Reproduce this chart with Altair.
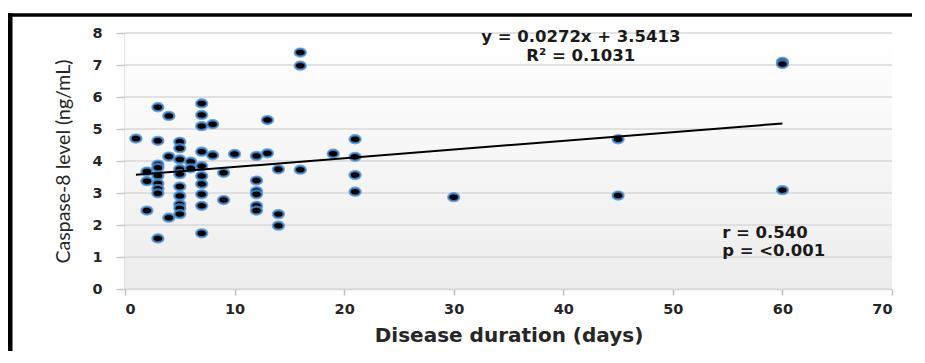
import altair as alt
import pandas as pd

# ---- data ----
days = [1,
        2, 2, 2,
        3, 3, 3, 3, 3, 3, 3, 3, 3,
        4, 4, 4,
        5, 5, 5, 5, 5, 5, 5, 5, 5, 5,
        6, 6,
        7, 7, 7, 7, 7, 7, 7, 7, 7, 7,
        8, 8,
        9, 9,
        10,
        12, 12, 12, 12, 12, 12,
        13, 13,
        14, 14, 14,
        16, 16, 16,
        19,
        21, 21, 21, 21,
        30,
        45, 45,
        60, 60, 60]
caspase8 = [4.70,
            3.67, 3.37, 2.45,
            5.68, 4.63, 3.89, 3.79, 3.54, 3.30, 3.13, 2.99, 1.58,
            5.41, 4.14, 2.23,
            4.60, 4.40, 4.05, 3.75, 3.59, 3.20, 2.91, 2.65, 2.52, 2.34,
            3.98, 3.77,
            5.80, 5.44, 5.09, 4.29, 3.84, 3.53, 3.28, 2.96, 2.60, 1.74,
            5.15, 4.18,
            3.63, 2.78,
            4.22,
            4.16, 3.39, 3.06, 2.96, 2.60, 2.45,
            5.28, 4.24,
            3.74, 2.34, 1.98,
            7.39, 6.98, 3.73,
            4.23,
            4.68, 4.13, 3.56, 3.04,
            2.87,
            4.68, 2.92,
            7.10, 7.03, 3.09]

slope = 0.0272
intercept = 3.5413
trend_x = [1, 60]

y_ticks = [0, 1, 2, 3, 4, 5, 6, 7, 8]
x_ticks = [0, 10, 20, 30, 40, 50, 60, 70]

annot_text = ["y = 0.0272x + 3.5413", "R\u00b2 = 0.1031"]
annot_x = [41.6, 41.6]
annot_y = [7.87, 7.28]

stat_text = ["r = 0.540", "p = <0.001"]
stat_x = [54.5, 54.5]
stat_y = [1.75, 1.19]

W, H = 767, 256
FONT = "DejaVu Sans"

pts = pd.DataFrame({"d": days, "c": caspase8})
trend = pd.DataFrame({"d": trend_x, "c": [slope * v + intercept for v in trend_x]})
grid = pd.DataFrame({"v": y_ticks})
annot = pd.DataFrame({"t": annot_text, "d": annot_x, "c": annot_y})
stats = pd.DataFrame({"t": stat_text, "d": stat_x, "c": stat_y})

xs = alt.Scale(domain=[0, 70], nice=False)
ys = alt.Scale(domain=[0, 8], nice=False)

x_axis = alt.Axis(values=x_ticks, title="Disease duration  (days)", grid=False,
                  domainColor="#d0d0d0", domainWidth=1.5,
                  tickColor="#bfbfbf", tickSize=6, tickWidth=1.5,
                  labelFont=FONT, labelFontWeight="bold", labelFontSize=14.5,
                  labelColor="#262626", labelPadding=7,
                  titleFont=FONT, titleFontWeight="bold", titleFontSize=20,
                  titleColor="#262626", titlePadding=10)
y_axis = alt.Axis(values=y_ticks, title="Caspase-8 level (ng/mL)", grid=False,
                  domainColor="#c8c8c8", domainWidth=2,
                  tickColor="#c8c8c8", tickSize=9, tickWidth=1.5,
                  labelFont=FONT, labelFontWeight="bold", labelFontSize=14.5,
                  labelColor="#262626", labelPadding=14,
                  titleFont="Lato", titleFontWeight="normal", titleFontSize=19.5,
                  titleColor="#262626", titlePadding=18)

bg = alt.Chart(pd.DataFrame({"a": [0]})).mark_rect(
    fill=alt.Gradient(gradient="linear", x1=0, x2=0, y1=0, y2=1,
                      stops=[alt.GradientStop(color="#ffffff", offset=0),
                             alt.GradientStop(color="#ededed", offset=1)])
).encode(x=alt.value(0), x2=alt.value(W), y=alt.value(0), y2=alt.value(H))

gridlines = alt.Chart(grid).mark_rule(color="#d9d9d9", strokeWidth=1.6).encode(
    y=alt.Y("v:Q", scale=ys, axis=y_axis)
)

ellipse = "M -1 0 A 1 0.72 0 1 0 1 0 A 1 0.72 0 1 0 -1 0 Z"
points = alt.Chart(pts).mark_point(
    shape=ellipse, size=120, filled=True, fill="#000000", fillOpacity=1,
    stroke="#4a90d9", strokeWidth=2.4, strokeOpacity=0.8, opacity=1
).encode(
    x=alt.X("d:Q", scale=xs, axis=x_axis),
    y=alt.Y("c:Q", scale=ys, axis=y_axis),
)

line = alt.Chart(trend).mark_line(color="#000000", strokeWidth=2).encode(
    x=alt.X("d:Q", scale=xs, axis=x_axis), y=alt.Y("c:Q", scale=ys, axis=y_axis)
)

eq = alt.Chart(annot).mark_text(
    font=FONT, fontWeight="bold", fontSize=16.5, color="#1a1a1a", align="center", baseline="middle"
).encode(x=alt.X("d:Q", scale=xs, axis=x_axis), y=alt.Y("c:Q", scale=ys, axis=y_axis), text="t:N")

st = alt.Chart(stats).mark_text(
    font=FONT, fontWeight="bold", fontSize=16.5, color="#1a1a1a", align="left", baseline="middle"
).encode(x=alt.X("d:Q", scale=xs, axis=x_axis), y=alt.Y("c:Q", scale=ys, axis=y_axis), text="t:N")

top_border = alt.Chart(pd.DataFrame({"a": [0]})).mark_rule(color="#000000", strokeWidth=3.5).encode(
    x=alt.value(-117), x2=alt.value(W + 20), y=alt.value(-18)
)
left_border = alt.Chart(pd.DataFrame({"a": [0]})).mark_rule(color="#000000", strokeWidth=5).encode(
    x=alt.value(-115), y=alt.value(-19.7), y2=alt.value(344)
)

chart = alt.layer(bg, gridlines, points, line, eq, st, top_border, left_border).properties(
    width=W, height=H,
    autosize=alt.AutoSizeParams(type="none"),
    padding={"left": 117, "top": 25, "right": 20, "bottom": 62},
    background="#ffffff",
).configure_view(stroke=None)

chart.save("out.html", embed_options={"renderer": "svg", "actions": False})
